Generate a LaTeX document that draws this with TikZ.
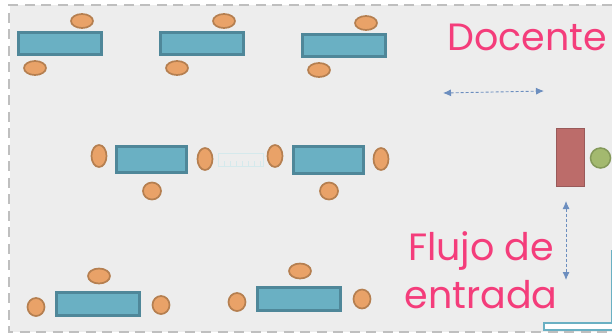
\documentclass[tikz,border=0pt]{standalone}
\usepackage{fontspec}
\setmainfont{Poppins}
\usetikzlibrary{shapes.geometric,arrows.meta}
\definecolor{roomgray}{HTML}{EDEDED}
\definecolor{tableblue}{HTML}{6AB0C3}
\definecolor{tableedge}{HTML}{4F8799}
\definecolor{seatfill}{HTML}{E9A268}
\definecolor{seatedge}{HTML}{B57F50}
\definecolor{deskred}{HTML}{BC6C6A}
\definecolor{deskedge}{HTML}{995A5A}
\definecolor{teachgreen}{HTML}{A3B96F}
\definecolor{teachedge}{HTML}{84995A}
\definecolor{flowblue}{HTML}{6C8EBF}
\definecolor{labelpink}{HTML}{F43D7B}
\definecolor{rulerblue}{HTML}{D5E9EC}
\tikzset{
  tablebox/.style={draw=tableedge, fill=tableblue, line width=2.2pt, inner sep=0, minimum width=#1},
  seat/.style={ellipse, draw=seatedge, fill=seatfill, line width=1.7pt, inner sep=0},
  flow/.style={densely dashed, draw=flowblue, line width=0.9pt, {Latex[length=8pt,width=7pt]}-{Latex[length=8pt,width=7pt]}},
  roomlabel/.style={text=labelpink, font=\fontsize{38}{44}\selectfont, inner sep=0}
}
\begin{document}
\begin{tikzpicture}[x=1pt, y=-1pt]
      \useasboundingbox (0,0) rectangle (612,333);
      \fill[roomgray] (10,5) rectangle (612,332);
      \draw[draw=black!25, line width=1.8pt, dash pattern=on 10pt off 6.5pt] (612,5) -- (9,5) -- (9,332) -- (612,332);

      % Tables
      \foreach \x/\y/\w/\h [count=\n] in {
        60/43.5/83/22, 202/43.5/83/22, 344/45.5/83/22,
        151.5/159.5/70/26, 328.5/160/70/27,
        98/304/83/23, 299/299/83/23
      } {
        \node[tablebox=\w pt, minimum height=\h pt] (table\n) at (\x,\y) {};
      }

      % Seats
      \foreach \x/\y/\w/\h [count=\n] in {
        82/21/22/14, 35/68/22/14, 224/21/22/14, 177/68/22/14, 366/23/22/14, 319/70/22/14,
        99/156/15/22, 205/159/15/22, 275/156/15/22, 381/159/15/22,
        152/191/18/17, 329/191/18/17,
        99/276/22/15, 36/307/17/18, 161/305/17/18,
        300/271/22/15, 237/302/17/18, 362/299/17/19
      } {
        \node[seat, minimum width=\w pt, minimum height=\h pt] (seat\n) at (\x,\y) {};
      }

      % Ruler between the middle tables
      \node[draw=rulerblue, line width=0.9pt, inner sep=0, minimum width=45pt, minimum height=13pt] (ruler) at (240.5,160) {};
      \foreach \x in {224,230,236,242,248,254,260} {
        \draw[draw=rulerblue, line width=0.8pt] (\x,166) -- (\x,161);
      }

      % Teacher
      \node[draw=deskedge, fill=deskred, line width=1.6pt, inner sep=0, minimum width=28pt, minimum height=58pt] (desk) at (570.5,157.5) {};
      \node[circle, draw=teachedge, fill=teachgreen, line width=1.5pt, inner sep=0, minimum size=20pt] (teacher) at (600.5,158) {};

      % Flow arrows
      \coordinate (aisleleft) at (443,93);
      \coordinate (aisleright) at (544,91);
      \coordinate (doortop) at (566,201);
      \coordinate (doorbottom) at (566,280);
      \draw[flow] (aisleleft) -- (aisleright);
      \draw[flow] (doortop) -- (doorbottom);

      % Door
      \fill[white] (545,323) rectangle (612,330);
      \draw[draw=tableblue, line width=1.4pt] (612,323) -- (544,323) -- (544,330) -- (612,330);
      \draw[draw=tableblue, line width=1.4pt] (611.5,250) -- (611.5,323);

      % Labels
      \node[roomlabel, anchor=base] (docente) at (527,50) {Docente};
      \node[roomlabel, anchor=base] (flujo) at (481,260) {Flujo de};
      \node[roomlabel, anchor=base] (entrada) at (481,308) {entrada};
    \end{tikzpicture}
\end{document}
